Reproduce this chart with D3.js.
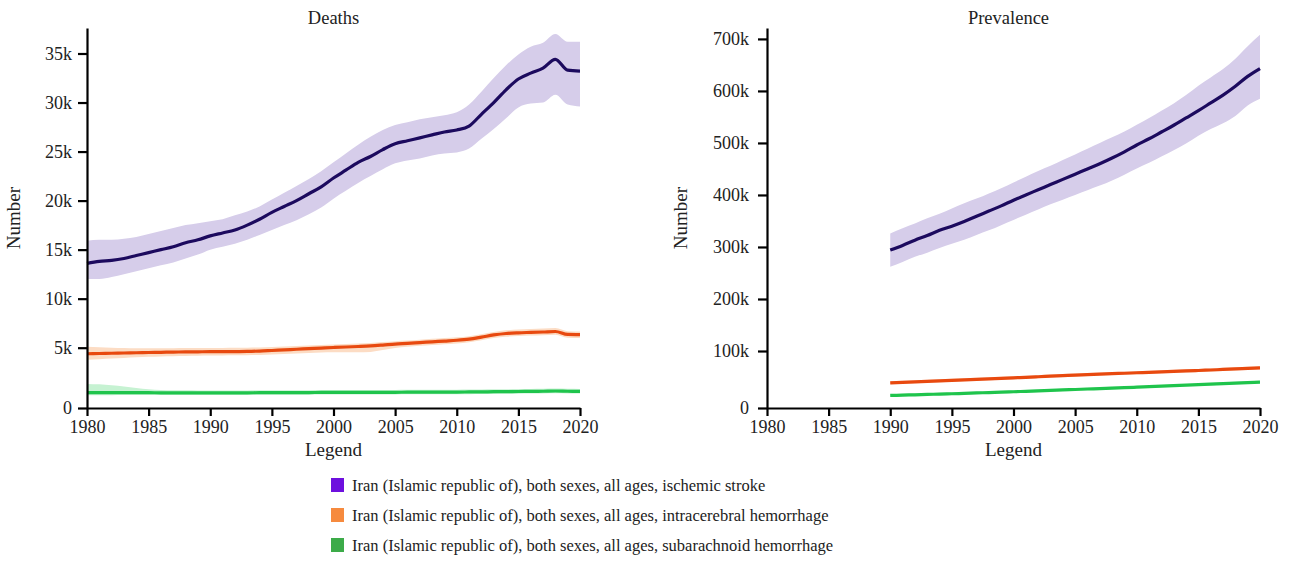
<!DOCTYPE html>
<html><head><meta charset="utf-8">
<script src="https://cdn.jsdelivr.net/npm/d3@7"></script>
<style>
body{margin:0;background:#fff}
text{font-family:"Liberation Serif","Times New Roman",serif;fill:#222}
</style></head>
<body><svg id="c" width="1296" height="561"></svg>
<script>
// ---------- DATA ----------
const deathYears = [1980,1981,1982,1983,1984,1985,1986,1987,1988,1989,1990,1991,1992,1993,1994,1995,1996,1997,1998,1999,2000,2001,2002,2003,2004,2005,2006,2007,2008,2009,2010,2011,2012,2013,2014,2015,2016,2017,2018,2019,2020];
const prevYears = [1990,1991,1992,1993,1994,1995,1996,1997,1998,1999,2000,2001,2002,2003,2004,2005,2006,2007,2008,2009,2010,2011,2012,2013,2014,2015,2016,2017,2018,2019,2020];

// Deaths (thousands)
const deathIsch = [13.6,13.8,13.9,14.1,14.4,14.7,15.0,15.3,15.7,16.0, 16.4,16.7,17.0,17.5,18.1,18.8,19.4,20.0,20.7,21.4, 22.3,23.1,23.9,24.5,25.2,25.8,26.1,26.4,26.7,27.0, 27.2,27.6,28.8,30.0,31.3,32.4,33.0,33.5,34.4,33.3,33.2];
const deathIschLo = [12.0,12.0,12.2,12.5,12.8,13.1,13.4,13.7,14.1,14.5, 15.0,15.3,15.6,16.0,16.5,17.0,17.5,18.0,18.6,19.3, 20.2,21.0,21.8,22.5,23.2,23.8,24.1,24.3,24.6,24.8, 24.9,25.3,26.3,27.3,28.4,29.5,29.9,30.0,30.8,29.8,29.6];
const deathIschHi = [15.9,16.0,16.0,16.1,16.3,16.6,16.9,17.2,17.5,17.7, 17.9,18.1,18.5,18.9,19.4,20.1,20.8,21.5,22.2,23.0, 23.9,24.8,25.7,26.5,27.2,27.7,28.0,28.3,28.5,28.7, 29.0,29.8,31.1,32.5,33.8,34.9,35.7,36.1,37.0,36.2,36.2];

const deathICH = [4.50,4.52,4.54,4.56,4.58,4.60,4.62,4.64,4.65,4.66, 4.67,4.67,4.68,4.69,4.72,4.77,4.82,4.87,4.92,4.97, 5.02,5.07,5.12,5.18,5.27,5.37,5.44,5.52,5.60,5.68, 5.76,5.88,6.08,6.30,6.45,6.52,6.56,6.60,6.65,6.35,6.33];
const deathICHLo = [4.0,4.05,4.1,4.15,4.2,4.25,4.28,4.3,4.32,4.34, 4.35,4.36,4.37,4.38,4.40,4.44,4.48,4.52,4.56,4.6, 4.62,4.62,4.62,4.65,4.8,4.98,5.1,5.2,5.28,5.36, 5.44,5.56,5.76,5.98,6.12,6.2,6.24,6.28,6.32,6.02,6.0];
const deathICHHi = [5.1,5.05,5.0,4.98,4.96,4.95,4.95,4.96,4.97,4.98, 4.98,4.98,4.99,5.0,5.02,5.07,5.12,5.17,5.22,5.27, 5.32,5.37,5.42,5.48,5.57,5.67,5.74,5.82,5.9,5.98, 6.06,6.18,6.38,6.6,6.77,6.85,6.9,6.95,7.0,6.68,6.65];

const deathSAH = [1.28,1.28,1.27,1.27,1.27,1.27,1.26,1.26,1.26,1.26, 1.26,1.26,1.26,1.26,1.27,1.27,1.27,1.28,1.28,1.29, 1.29,1.29,1.30,1.30,1.30,1.30,1.31,1.31,1.31,1.32, 1.32,1.33,1.34,1.35,1.36,1.37,1.38,1.39,1.41,1.39,1.38];
const deathSAHLo = [1.05,1.06,1.06,1.07,1.07,1.08,1.08,1.08,1.08,1.08, 1.08,1.08,1.08,1.08,1.09,1.09,1.09,1.1,1.1,1.11, 1.11,1.11,1.12,1.12,1.12,1.12,1.13,1.13,1.13,1.14, 1.14,1.15,1.16,1.17,1.18,1.19,1.2,1.21,1.23,1.21,1.2];
const deathSAHHi = [2.0,1.96,1.88,1.78,1.66,1.56,1.5,1.48,1.47,1.46, 1.46,1.46,1.46,1.46,1.47,1.47,1.47,1.48,1.48,1.49, 1.49,1.49,1.5,1.5,1.5,1.5,1.51,1.51,1.51,1.52, 1.52,1.53,1.54,1.55,1.56,1.57,1.58,1.59,1.61,1.59,1.58];

// Prevalence (thousands)
const prevIsch = [294,303,313,322,332,340,349,359,369,379, 390,400,410,420,430,440,450,460,471,483, 496,508,521,534,548,562,577,592,609,628,643];
const prevIschLo = [262,271,281,289,298,306,314,323,332,342, 352,362,372,382,391,400,409,418,428,439, 451,462,474,486,499,514,527,538,552,572,585];
const prevIschHi = [326,336,345,355,364,374,384,393,403,413, 424,435,446,456,467,478,489,500,511,522, 535,548,562,576,592,610,626,642,662,686,708];

const prevICH = [44.0,44.9,45.8,46.7,47.6,48.5,49.4,50.3,51.2,52.1, 53.0,53.9,54.8,55.8,56.8,57.8,58.6,59.4,60.2,61.0, 61.8,62.6,63.4,64.2,65.0,65.8,66.7,67.6,68.5,69.5,70.5];
const prevICHLo = [41.5,42.4,43.3,44.2,45.1,46.0,46.9,47.8,48.7,49.6, 50.5,51.4,52.3,53.3,54.3,55.3,56.1,56.9,57.7,58.5, 59.3,60.1,60.9,61.7,62.5,63.3,64.2,65.1,66.0,67.0,68.0];
const prevICHHi = [46.8,47.7,48.6,49.5,50.4,51.3,52.2,53.1,54.0,54.9, 55.8,56.7,57.6,58.6,59.6,60.6,61.4,62.2,63.0,63.8, 64.6,65.4,66.2,67.0,67.8,68.6,69.5,70.4,71.3,72.3,73.3];

const prevSAH = [22.0,22.6,23.2,23.8,24.4,25.0,25.7,26.4,27.1,27.8, 28.5,29.3,30.1,30.9,31.7,32.5,33.3,34.1,34.9,35.7, 36.5,37.4,38.3,39.2,40.1,41.0,41.9,42.8,43.7,44.6,45.5];
const prevSAHLo = [20.0,20.6,21.2,21.8,22.4,23.0,23.7,24.4,25.1,25.8, 26.5,27.3,28.1,28.9,29.7,30.5,31.3,32.1,32.9,33.7, 34.5,35.4,36.3,37.2,38.1,39.0,39.9,40.8,41.7,42.6,43.5];
const prevSAHHi = [24.2,24.8,25.4,26.0,26.6,27.2,27.9,28.6,29.3,30.0, 30.7,31.5,32.3,33.1,33.9,34.7,35.5,36.3,37.1,37.9, 38.7,39.6,40.5,41.4,42.3,43.2,44.1,45.0,45.9,46.8,47.7];

const xTicks = [1980,1985,1990,1995,2000,2005,2010,2015,2020];
const deathTicks = [0,5000,10000,15000,20000,25000,30000,35000];
const prevTicks = [0,100000,200000,300000,400000,500000,600000,700000];
const legendLabels = [
  "Iran (Islamic republic of), both sexes, all ages, ischemic stroke",
  "Iran (Islamic republic of), both sexes, all ages, intracerebral hemorrhage",
  "Iran (Islamic republic of), both sexes, all ages, subarachnoid hemorrhage"
];
const lineColors = ["#1c0a5e","#e8490f","#1fc44c"];
const bandColors = ["#d6cdea","#fcdcc4","#c6f2d2"];
const legendColors = ["#6d10de","#f68a3e","#3cab49"];

// ---------- DRAW ----------
const svg = d3.select("#c");
const fmt = d => d === 0 ? "0" : (d/1000) + "k";

function panel(opts){
  const x = d3.scaleLinear().domain([1980,2020]).range(opts.xr);
  const y = d3.scaleLinear().domain(opts.yd).range(opts.yr);
  const g = svg.append("g");
  opts.series.forEach((s,i)=>{
    const pts = opts.years.map((yr,k)=>({yr, v:s.v[k]*1000, lo:s.lo[k]*1000, hi:s.hi[k]*1000}));
    g.append("path").datum(pts)
      .attr("fill", bandColors[i]).attr("stroke","none")
      .attr("d", d3.area().x(d=>x(d.yr)).y0(d=>y(d.lo)).y1(d=>y(d.hi)).curve(d3.curveMonotoneX));
  });
  opts.series.forEach((s,i)=>{
    const pts = opts.years.map((yr,k)=>({yr, v:s.v[k]*1000}));
    g.append("path").datum(pts)
      .attr("fill","none").attr("stroke", lineColors[i]).attr("stroke-width", 3.2)
      .attr("stroke-linejoin","round")
      .attr("d", d3.line().x(d=>x(d.yr)).y(d=>y(d.v)).curve(d3.curveMonotoneX));
  });
  const base = opts.yr[0];
  const xa = g.append("g").attr("transform",`translate(0,${base})`)
    .call(d3.axisBottom(x).tickValues(xTicks).tickFormat(d3.format("d")).tickSize(8).tickSizeOuter(0).tickPadding(4));
  const ya = g.append("g").attr("transform",`translate(${opts.xr[0]},0)`)
    .call(d3.axisLeft(y).tickValues(opts.ticks).tickFormat(fmt).tickSize(9).tickSizeOuter(0).tickPadding(opts.pad));
  [xa,ya].forEach(a=>{
    a.attr("font-family",null).attr("font-size",null);
    a.select(".domain").attr("stroke","#000").attr("stroke-width",2.2);
    a.selectAll(".tick line").attr("stroke","#000").attr("stroke-width",2.2);
    a.selectAll(".tick text").style("font-family",'"Liberation Serif","Times New Roman",serif').style("font-size","18px").attr("fill","#222");
  });
  const cx = (opts.xr[0]+opts.xr[1])/2;
  g.append("text").attr("x",cx - opts.tShift).attr("y",24).attr("text-anchor","middle").style("font-size","18.5px").text(opts.title);
  g.append("text").attr("x",cx).attr("y",456).attr("text-anchor","middle").style("font-size","19px").text("Legend");
  g.append("text").attr("transform",`translate(${opts.ylabX},${(opts.yr[0]+opts.yr[opts.yr.length-1])/2}) rotate(-90)`)
    .attr("text-anchor","middle").style("font-size","19px").text("Number");
}

panel({
  title:"Deaths", years:deathYears, xr:[87,580], pad:6, tShift:0,
  yd:[0,5000,37600], yr:[408,347.7,28], ticks:deathTicks, ylabX:20,
  series:[{v:deathIsch,lo:deathIschLo,hi:deathIschHi},{v:deathICH,lo:deathICHLo,hi:deathICHHi},{v:deathSAH,lo:deathSAHLo,hi:deathSAHHi}]
});
panel({
  title:"Prevalence", years:prevYears, xr:[767,1260], pad:9, tShift:5,
  yd:[0,100000,721000], yr:[408,351,28], ticks:prevTicks, ylabX:687,
  series:[{v:prevIsch,lo:prevIschLo,hi:prevIschHi},{v:prevICH,lo:prevICHLo,hi:prevICHHi},{v:prevSAH,lo:prevSAHLo,hi:prevSAHHi}]
});

const lg = svg.append("g");
legendLabels.forEach((t,i)=>{
  const yy = 478 + i*30;
  lg.append("rect").attr("x",331).attr("y",yy).attr("width",13).attr("height",14).attr("fill",legendColors[i]);
  lg.append("text").attr("x",352).attr("y",yy+12.5).style("font-size","16.5px").text(t);
});
</script></body></html>
